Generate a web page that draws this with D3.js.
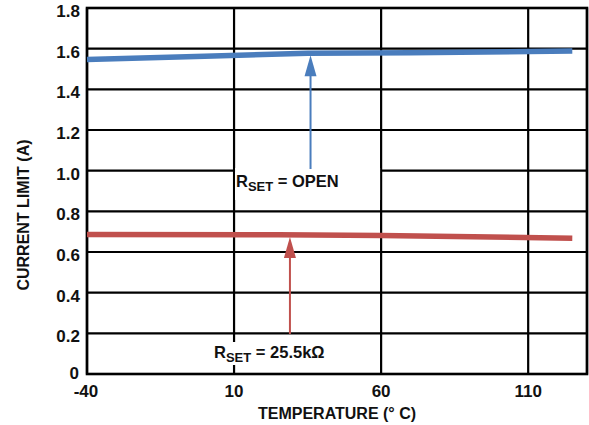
<!DOCTYPE html>
<html><head><meta charset="utf-8">
<script src="https://cdn.jsdelivr.net/npm/d3@7"></script>
<style>body{margin:0;background:#fff}svg{display:block}text{font-family:"Liberation Sans",Arial,sans-serif;font-weight:bold;fill:#111}</style>
</head><body><svg id="c" width="589" height="425"></svg>
<script>
const xTicks = [-40, 10, 60, 110];
const yTicks = [0, 0.2, 0.4, 0.6, 0.8, 1.0, 1.2, 1.4, 1.6, 1.8];
const yTickLabels = ["0", "0.2", "0.4", "0.6", "0.8", "1.0", "1.2", "1.4", "1.6", "1.8"];
const openTemp = [-40, 0, 35, 70, 125];
const openCurrent = [1.547, 1.563, 1.577, 1.580, 1.588];
const r25Temp = [-40, 25, 60, 125];
const r25Current = [0.686, 0.685, 0.681, 0.668];
const xTitle = "TEMPERATURE (° C)";
const yTitle = "CURRENT LIMIT (A)";

const svg = d3.select("#c");
const x = d3.scaleLinear().domain([-40, 130]).range([87, 587]);
const y = d3.scaleLinear().domain([0, 1.8]).range([374, 8]);

// grid
const g = svg.append("g");
g.selectAll(".hg").data(yTicks).join("line")
  .attr("x1", x(-40)).attr("x2", x(130)).attr("y1", d => y(d)).attr("y2", d => y(d))
  .attr("stroke", "#000").attr("stroke-width", 2.2);
g.selectAll(".vg").data(xTicks.concat([130])).join("line")
  .attr("y1", y(0)).attr("y2", y(1.8)).attr("x1", d => x(d)).attr("x2", d => x(d))
  .attr("stroke", "#000").attr("stroke-width", 2.2);
svg.append("rect").attr("x", x(-40)).attr("y", y(1.8)).attr("width", x(130) - x(-40)).attr("height", y(0) - y(1.8))
  .attr("fill", "none").attr("stroke", "#000").attr("stroke-width", 2.6);

// axis labels
svg.selectAll(".yl").data(yTicks).join("text")
  .attr("x", (d, i) => i === 0 ? 79 : 80).attr("y", (d, i) => i === 0 ? 379 : y(d) + 9).attr("text-anchor", "end")
  .attr("font-size", 17).text((d, i) => yTickLabels[i]);
svg.selectAll(".xl").data(xTicks).join("text")
  .attr("x", (d, i) => x(d) + (i === 0 ? -1 : 0)).attr("y", 397).attr("text-anchor", "middle")
  .attr("font-size", 17).text(d => d);
svg.append("text").attr("x", 337).attr("y", 419).attr("text-anchor", "middle").attr("font-size", 16).text(xTitle);
svg.append("text").attr("transform", "translate(29,215) rotate(-90)").attr("text-anchor", "middle").attr("font-size", 16).text(yTitle);

// lines
const line = d3.line().x(d => x(d[0])).y(d => y(d[1]));
svg.append("path").datum(openTemp.map((t, i) => [t, openCurrent[i]])).attr("d", line)
  .attr("fill", "none").attr("stroke", "#4a7dbd").attr("stroke-width", 5.5);
svg.append("path").datum(r25Temp.map((t, i) => [t, r25Current[i]])).attr("d", line)
  .attr("fill", "none").attr("stroke", "#c0504d").attr("stroke-width", 5.5);

// annotations
function arrow(xv, yTop, yBot, color) {
  const px = x(xv), pt = y(yTop) + 2;
  svg.append("line").attr("x1", px).attr("x2", px).attr("y1", pt + 10).attr("y2", yBot)
    .attr("stroke", color).attr("stroke-width", 2);
  svg.append("path").attr("d", `M${px},${pt} L${px - 6},${pt + 21} L${px + 6},${pt + 21} Z`).attr("fill", color);
}
// OPEN label box
svg.append("rect").attr("x", x(10) + 1).attr("y", 168).attr("width", x(60) - x(10) - 2).attr("height", 32).attr("fill", "#fff");
arrow(36, 1.577, 169, "#4a7dbd");
const t1 = svg.append("text").attr("x", 236).attr("y", 187).attr("font-size", 16.5);
t1.append("tspan").text("R");
t1.append("tspan").attr("font-size", 13).attr("dy", 4).text("SET");
t1.append("tspan").attr("dy", -4).text(" = OPEN");

// 25.5k label
svg.append("rect").attr("x", 212).attr("y", 342).attr("width", 126).attr("height", 23).attr("fill", "#fff");
arrow(29, 0.684, 334, "#c0504d");
const t2 = svg.append("text").attr("x", 214).attr("y", 358).attr("font-size", 16.5);
t2.append("tspan").text("R");
t2.append("tspan").attr("font-size", 13).attr("dy", 4).text("SET");
t2.append("tspan").attr("dy", -4).text(" = 25.5kΩ");
</script></body></html>
